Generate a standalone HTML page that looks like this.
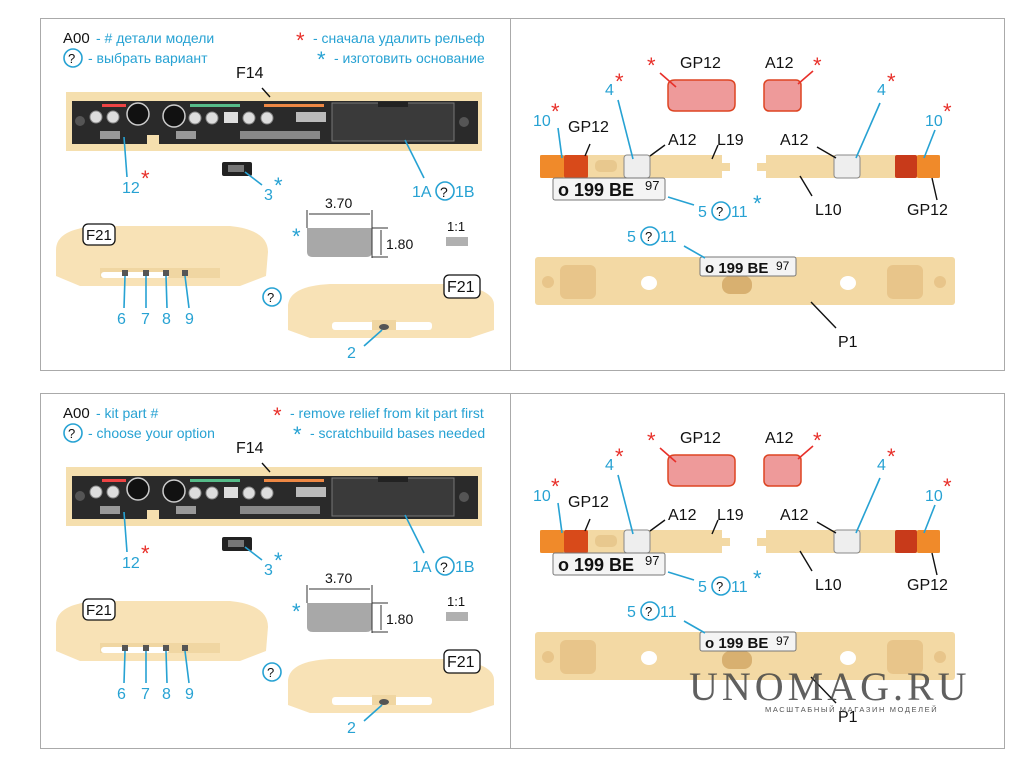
<!DOCTYPE html>
<html><head><meta charset="utf-8"><style>
html,body{margin:0;padding:0;background:#fff;}
svg{display:block;font-family:"Liberation Sans","Noto Sans CJK SC",sans-serif;}
.b{fill:#27a2d3}.k{fill:#111}.r{fill:#e8302a}
.lb{stroke:#27a2d3;stroke-width:1.6;fill:none}.lk{stroke:#111;stroke-width:1.4;fill:none}.lr{stroke:#e8302a;stroke-width:1.6;fill:none}
</style></head><body>
<svg width="1020" height="765" viewBox="0 0 1020 765" xmlns="http://www.w3.org/2000/svg">
<defs>
<g id="dash">
 <rect x="66" y="92" width="416" height="59" fill="#f5dfae"/>
 <rect x="72" y="101" width="406" height="43" fill="#2a2a2a"/>
 <rect x="332" y="103" width="122" height="38" fill="#3a3a3a" stroke="#777"/>
 <rect x="378" y="102" width="30" height="5" fill="#222"/>
 <circle cx="80" cy="121" r="5" fill="#555"/><circle cx="464" cy="122" r="5" fill="#555"/>
 <circle cx="96" cy="117" r="6" fill="#ddd" stroke="#888"/><circle cx="113" cy="117" r="6" fill="#ddd" stroke="#888"/>
 <circle cx="138" cy="114" r="11" fill="#111" stroke="#ccc" stroke-width="1.5"/>
 <circle cx="174" cy="116" r="11" fill="#111" stroke="#ccc" stroke-width="1.5"/>
 <circle cx="195" cy="118" r="6" fill="#ddd" stroke="#888"/><circle cx="212" cy="118" r="6" fill="#ddd" stroke="#888"/>
 <circle cx="249" cy="118" r="6" fill="#ddd" stroke="#888"/><circle cx="267" cy="118" r="6" fill="#ddd" stroke="#888"/>
 <rect x="224" y="112" width="14" height="11" fill="#ddd"/>
 <rect x="296" y="112" width="30" height="10" fill="#bbb"/>
 <rect x="100" y="131" width="20" height="8" fill="#999"/><rect x="176" y="131" width="20" height="8" fill="#999"/>
 <rect x="240" y="131" width="80" height="8" fill="#888"/>
 <rect x="102" y="104" width="24" height="3" fill="#e44"/><rect x="190" y="104" width="50" height="3" fill="#5b8"/><rect x="264" y="104" width="60" height="3" fill="#e84"/>
 <rect x="147" y="135" width="12" height="14" fill="#f5dfae"/>
</g>
<g id="f21a">
 <path d="M56 250 Q56 228 100 226 L230 226 Q268 230 268 252 L266 276 L240 286 L80 286 L56 276 Z" fill="#f8e2b6"/>
 <rect x="100" y="268" width="120" height="10" fill="#f0d6a2"/>
 <rect x="101" y="272" width="68" height="6" rx="3" fill="#fff"/>
 <rect x="122" y="270" width="6" height="6" fill="#555"/><rect x="143" y="270" width="6" height="6" fill="#555"/><rect x="163" y="270" width="6" height="6" fill="#555"/><rect x="182" y="270" width="6" height="6" fill="#555"/>
</g>
<g id="f21b">
 <path d="M288 305 Q290 286 330 284 L450 284 Q494 288 494 305 L494 330 L470 338 L310 338 L288 330 Z" fill="#f8e2b6"/>
 <rect x="332" y="322" width="100" height="8" rx="3" fill="#fff"/>
 <rect x="372" y="320" width="24" height="10" fill="#f0d6a2"/>
 <ellipse cx="384" cy="327" rx="5" ry="3" fill="#555"/>
</g>
<g id="dims">
 <path d="M307 228 H372 V252 Q372 257 366 257 H313 Q307 257 307 252 Z" fill="#a8a8a8"/>
 <line x1="307" y1="210" x2="307" y2="228" stroke="#333"/><line x1="372" y1="210" x2="372" y2="258" stroke="#333"/>
 <line x1="309" y1="214" x2="370" y2="214" stroke="#333"/>
 <line x1="372" y1="228" x2="388" y2="228" stroke="#333"/><line x1="372" y1="257" x2="388" y2="257" stroke="#333"/>
 <line x1="381" y1="230" x2="381" y2="255" stroke="#333"/>
 <rect x="446" y="237" width="22" height="9" fill="#b0b0b0"/>
 <rect x="222" y="162" width="30" height="14" rx="2" fill="#222"/><rect x="228" y="165" width="16" height="7" fill="#777"/>
</g>
<g id="tr">
 <path d="M668 86 Q668 80 675 80 H728 Q735 80 735 86 V104 Q735 111 728 111 H675 Q668 111 668 104 Z" fill="#ee9a9a" stroke="#d42" stroke-width="1.5"/>
 <rect x="764" y="80" width="37" height="31" rx="5" fill="#ee9a9a" stroke="#d42" stroke-width="1.5"/>
 <rect x="540" y="155" width="182" height="23" fill="#f3d9a4"/><rect x="722" y="163" width="8" height="8" fill="#f3d9a4"/>
 <rect x="540" y="155" width="24" height="23" rx="2" fill="#f08a2a"/><rect x="564" y="155" width="24" height="23" rx="2" fill="#d84a1a"/>
 <rect x="595" y="160" width="22" height="12" rx="5" fill="#e8c88e"/>
 <rect x="624" y="155" width="26" height="23" rx="3" fill="#eee" stroke="#888"/>
 <rect x="553" y="178" width="112" height="22" rx="2" fill="#f4f4f4" stroke="#777"/>
 <rect x="766" y="155" width="174" height="23" fill="#f3d9a4"/><rect x="757" y="163" width="10" height="8" fill="#f3d9a4"/>
 <rect x="834" y="155" width="26" height="23" rx="3" fill="#eee" stroke="#888"/>
 <rect x="895" y="155" width="22" height="23" rx="2" fill="#c83a1a"/><rect x="917" y="155" width="23" height="23" rx="2" fill="#f08a2a"/>
 <rect x="535" y="257" width="420" height="48" rx="3" fill="#f3d9a4"/>
 <rect x="560" y="265" width="36" height="34" rx="6" fill="#e8c58a"/><rect x="887" y="265" width="36" height="34" rx="6" fill="#e8c58a"/>
 <circle cx="548" cy="282" r="6" fill="#e8c58a"/><circle cx="940" cy="282" r="6" fill="#e8c58a"/>
 <ellipse cx="649" cy="283" rx="8" ry="7" fill="#fff"/><ellipse cx="848" cy="283" rx="8" ry="7" fill="#fff"/>
 <rect x="722" y="276" width="30" height="18" rx="8" fill="#d8b070"/>
 <rect x="700" y="257" width="96" height="19" rx="2" fill="#f4f4f4" stroke="#777"/>
</g>
</defs>

<rect x="40.5" y="18.5" width="470" height="352" fill="none" stroke="#aaa"/>
<rect x="510.5" y="18.5" width="494" height="352" fill="none" stroke="#aaa"/>
<rect x="40.5" y="393.5" width="470" height="355" fill="none" stroke="#aaa"/>
<rect x="510.5" y="393.5" width="494" height="355" fill="none" stroke="#aaa"/>

<g id="P">
<use href="#dash"/><use href="#f21a"/><use href="#f21b"/><use href="#dims"/><use href="#tr"/>
</g>
<use href="#P" y="375"/>

<g id="L">
 <line class="lk" x1="262" y1="88" x2="270" y2="97"/>
 <line class="lb" x1="127" y1="177" x2="124" y2="137"/>
 <line class="lb" x1="262" y1="185" x2="245" y2="172"/>
 <line class="lb" x1="424" y1="178" x2="405" y2="140"/>
 <line class="lb" x1="124" y1="308" x2="125" y2="276"/><line class="lb" x1="146" y1="308" x2="146" y2="276"/>
 <line class="lb" x1="167" y1="308" x2="166" y2="276"/><line class="lb" x1="189" y1="308" x2="185" y2="276"/>
 <line class="lb" x1="364" y1="346" x2="382" y2="330"/>
 <circle cx="272" cy="297" r="9" fill="none" stroke="#27a2d3" stroke-width="1.6"/>
 <line class="lr" x1="660" y1="73" x2="676" y2="87"/><line class="lr" x1="813" y1="71" x2="798" y2="84"/>
 <line class="lb" x1="558" y1="128" x2="562" y2="158"/><line class="lk" x1="590" y1="144" x2="585" y2="156"/>
 <line class="lb" x1="618" y1="100" x2="633" y2="159"/><line class="lk" x1="665" y1="145" x2="650" y2="156"/>
 <line class="lk" x1="718" y1="145" x2="712" y2="159"/>
 <line class="lb" x1="694" y1="205" x2="668" y2="197"/>
 <line class="lk" x1="817" y1="147" x2="836" y2="158"/><line class="lb" x1="880" y1="103" x2="856" y2="158"/>
 <line class="lb" x1="935" y1="130" x2="924" y2="158"/><line class="lk" x1="937" y1="200" x2="932" y2="178"/>
 <line class="lk" x1="812" y1="196" x2="800" y2="176"/>
 <line class="lb" x1="684" y1="246" x2="705" y2="258"/>
 <line class="lk" x1="836" y1="328" x2="811" y2="302"/>
</g>
<use href="#L" y="375"/>

<g font-size="14">
<text x="63" y="43" class="k" font-size="15">A00</text><text x="96" y="43" class="b">- # детали модели</text>
<circle cx="73" cy="58" r="9" fill="none" stroke="#27a2d3" stroke-width="1.6"/><text x="68" y="63" class="k" font-size="13">?</text>
<text x="88" y="63" class="b">- выбрать вариант</text>
<text x="296" y="48" class="r" font-size="22">*</text><text x="313" y="43" class="b">- сначала удалить рельеф</text>
<text x="317" y="67" class="b" font-size="22">*</text><text x="334" y="63" class="b">- изготовить основание</text>
<text x="236" y="78" class="k" font-size="16">F14</text>
<text x="122" y="193" class="b" font-size="16">12</text><text x="141" y="186" class="r" font-size="22">*</text>
<text x="264" y="200" class="b" font-size="16">3</text><text x="274" y="193" class="b" font-size="22">*</text>
<text x="412" y="197" class="b" font-size="16">1A</text><circle cx="445" cy="191" r="9" fill="none" stroke="#27a2d3" stroke-width="1.6"/><text x="440" y="197" class="k" font-size="14">?</text><text x="455" y="197" class="b" font-size="16">1B</text>
<text x="325" y="208" class="k">3.70</text><text x="386" y="249" class="k">1.80</text>
<text x="292" y="244" class="b" font-size="22">*</text><text x="447" y="231" class="k" font-size="13">1:1</text>
<rect x="83" y="224" width="32" height="21" rx="5" fill="#fff" stroke="#111" stroke-width="1.3"/><text x="86" y="240" class="k" font-size="15">F21</text>
<rect x="444" y="275" width="36" height="23" rx="5" fill="#fff" stroke="#111" stroke-width="1.3"/><text x="447" y="292" class="k" font-size="16">F21</text>
<text x="267" y="302" class="k" font-size="13">?</text>
<text x="117" y="324" class="b" font-size="16">6</text><text x="141" y="324" class="b" font-size="16">7</text><text x="162" y="324" class="b" font-size="16">8</text><text x="185" y="324" class="b" font-size="16">9</text>
<text x="347" y="358" class="b" font-size="16">2</text>
<text x="647" y="73" class="r" font-size="22">*</text><text x="680" y="68" class="k" font-size="16">GP12</text>
<text x="765" y="68" class="k" font-size="16">A12</text><text x="813" y="73" class="r" font-size="22">*</text>
<text x="533" y="126" class="b" font-size="16">10</text><text x="551" y="119" class="r" font-size="22">*</text>
<text x="568" y="132" class="k" font-size="16">GP12</text>
<text x="605" y="95" class="b" font-size="16">4</text><text x="615" y="89" class="r" font-size="22">*</text>
<text x="668" y="145" class="k" font-size="16">A12</text><text x="717" y="145" class="k" font-size="16">L19</text>
<text x="558" y="196" class="k" font-size="18" font-weight="bold">o 199 BE</text><text x="645" y="190" class="k" font-size="13">97</text>
<text x="698" y="217" class="b" font-size="16">5</text><circle cx="721" cy="211" r="9" fill="none" stroke="#27a2d3" stroke-width="1.6"/><text x="716" y="216" class="k" font-size="13">?</text><text x="731" y="217" class="b" font-size="16">11</text><text x="753" y="211" class="b" font-size="22">*</text>
<text x="780" y="145" class="k" font-size="16">A12</text>
<text x="877" y="95" class="b" font-size="16">4</text><text x="887" y="89" class="r" font-size="22">*</text>
<text x="925" y="126" class="b" font-size="16">10</text><text x="943" y="119" class="r" font-size="22">*</text>
<text x="815" y="215" class="k" font-size="16">L10</text><text x="907" y="215" class="k" font-size="16">GP12</text>
<text x="627" y="242" class="b" font-size="16">5</text><circle cx="650" cy="236" r="9" fill="none" stroke="#27a2d3" stroke-width="1.6"/><text x="645" y="241" class="k" font-size="13">?</text><text x="660" y="242" class="b" font-size="16">11</text>
<text x="705" y="273" class="k" font-size="15" font-weight="bold">o 199 BE</text><text x="776" y="270" class="k" font-size="12">97</text>
<text x="838" y="347" class="k" font-size="16">P1</text>

<text x="63" y="418" class="k" font-size="15">A00</text><text x="96" y="418" class="b">- kit part #</text>
<circle cx="73" cy="433" r="9" fill="none" stroke="#27a2d3" stroke-width="1.6"/><text x="68" y="438" class="k" font-size="13">?</text>
<text x="88" y="438" class="b">- choose your option</text>
<text x="273" y="423" class="r" font-size="22">*</text><text x="290" y="418" class="b">- remove relief from kit part first</text>
<text x="293" y="442" class="b" font-size="22">*</text><text x="310" y="438" class="b">- scratchbuild bases needed</text>
<text x="236" y="453" class="k" font-size="16">F14</text>
<text x="122" y="568" class="b" font-size="16">12</text><text x="141" y="561" class="r" font-size="22">*</text>
<text x="264" y="575" class="b" font-size="16">3</text><text x="274" y="568" class="b" font-size="22">*</text>
<text x="412" y="572" class="b" font-size="16">1A</text><circle cx="445" cy="566" r="9" fill="none" stroke="#27a2d3" stroke-width="1.6"/><text x="440" y="572" class="k" font-size="14">?</text><text x="455" y="572" class="b" font-size="16">1B</text>
<text x="325" y="583" class="k">3.70</text><text x="386" y="624" class="k">1.80</text>
<text x="292" y="619" class="b" font-size="22">*</text><text x="447" y="606" class="k" font-size="13">1:1</text>
<rect x="83" y="599" width="32" height="21" rx="5" fill="#fff" stroke="#111" stroke-width="1.3"/><text x="86" y="615" class="k" font-size="15">F21</text>
<rect x="444" y="650" width="36" height="23" rx="5" fill="#fff" stroke="#111" stroke-width="1.3"/><text x="447" y="667" class="k" font-size="16">F21</text>
<text x="267" y="677" class="k" font-size="13">?</text>
<text x="117" y="699" class="b" font-size="16">6</text><text x="141" y="699" class="b" font-size="16">7</text><text x="162" y="699" class="b" font-size="16">8</text><text x="185" y="699" class="b" font-size="16">9</text>
<text x="347" y="733" class="b" font-size="16">2</text>
<text x="647" y="448" class="r" font-size="22">*</text><text x="680" y="443" class="k" font-size="16">GP12</text>
<text x="765" y="443" class="k" font-size="16">A12</text><text x="813" y="448" class="r" font-size="22">*</text>
<text x="533" y="501" class="b" font-size="16">10</text><text x="551" y="494" class="r" font-size="22">*</text>
<text x="568" y="507" class="k" font-size="16">GP12</text>
<text x="605" y="470" class="b" font-size="16">4</text><text x="615" y="464" class="r" font-size="22">*</text>
<text x="668" y="520" class="k" font-size="16">A12</text><text x="717" y="520" class="k" font-size="16">L19</text>
<text x="558" y="571" class="k" font-size="18" font-weight="bold">o 199 BE</text><text x="645" y="565" class="k" font-size="13">97</text>
<text x="698" y="592" class="b" font-size="16">5</text><circle cx="721" cy="586" r="9" fill="none" stroke="#27a2d3" stroke-width="1.6"/><text x="716" y="591" class="k" font-size="13">?</text><text x="731" y="592" class="b" font-size="16">11</text><text x="753" y="586" class="b" font-size="22">*</text>
<text x="780" y="520" class="k" font-size="16">A12</text>
<text x="877" y="470" class="b" font-size="16">4</text><text x="887" y="464" class="r" font-size="22">*</text>
<text x="925" y="501" class="b" font-size="16">10</text><text x="943" y="494" class="r" font-size="22">*</text>
<text x="815" y="590" class="k" font-size="16">L10</text><text x="907" y="590" class="k" font-size="16">GP12</text>
<text x="627" y="617" class="b" font-size="16">5</text><circle cx="650" cy="611" r="9" fill="none" stroke="#27a2d3" stroke-width="1.6"/><text x="645" y="616" class="k" font-size="13">?</text><text x="660" y="617" class="b" font-size="16">11</text>
<text x="705" y="648" class="k" font-size="15" font-weight="bold">o 199 BE</text><text x="776" y="645" class="k" font-size="12">97</text>
<text x="838" y="722" class="k" font-size="16">P1</text>
</g>
<text x="689" y="700" font-family="Liberation Serif,serif" font-size="40" fill="#444" fill-opacity="0.85" letter-spacing="4">UNOMAG.RU</text>
<text x="765" y="712" font-size="7.5" fill="#555" letter-spacing="1.6">МАСШТАБНЫЙ МАГАЗИН МОДЕЛЕЙ</text>
</svg>
</body></html>
